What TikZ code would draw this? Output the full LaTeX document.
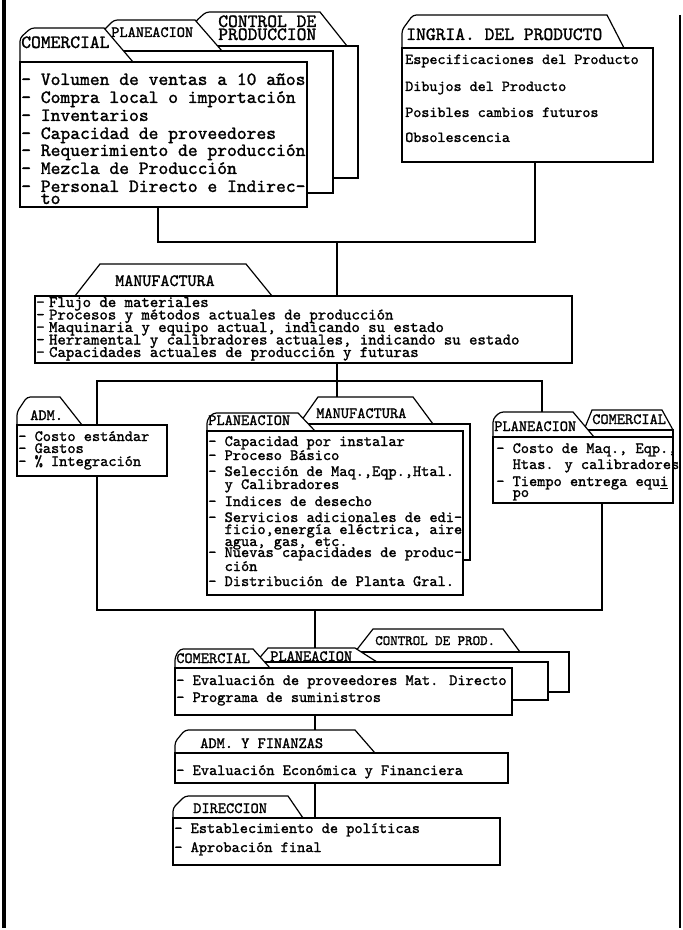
\documentclass[tikz,border=0pt]{standalone}
\newcommand\twf[1]{\font\twcur="[lmmono10-regular.otf]:embolden=1.4" at #1pt\twcur}
\tikzset{
  px/.style={x=0.75pt,y=-0.75pt},
  box/.style={draw=black,line width=0.9pt,fill=white,line join=miter},
  conn/.style={draw=black,line width=1.8pt},
  txt/.style={inner sep=0pt,anchor=base west},
  fbig/.style={txt,font=\twf{14}},
  fsm/.style={txt,font=\twf{11.7}},
  fin/.style={txt,font=\twf{11.5}},
  fmf/.style={txt,font=\twf{12}},
  ftab/.style={txt,font=\twf{12.9}},
  fctl/.style={txt,font=\twf{10.7}},
}
\newcommand\tabshape[7]{\path[box] (#1,#2) [rounded corners=2.5pt] -- (#1,#3) -- (#4,#5) [sharp corners] -- (#6,#5) -- (#7,#2);}
\newcommand\tabslant[6]{\path[box] (#1,#2) -- (#3,#4) -- (#5,#4) -- (#6,#2);}
\newcommand\md{-\hspace{-3pt}\ }
\begin{document}
\begin{tikzpicture}[px]
\useasboundingbox (0,0) rectangle (682,930);
\path[fill=white] (0,0) rectangle (682,930);
% page borders
\draw[line width=3pt] (4,0) -- (4,928);
\draw[line width=0.8pt] (680,15) -- (680,928);

% connector end points
\coordinate (cA) at (158,207);
\coordinate (jA) at (158,242);
\coordinate (jM) at (337,242);
\coordinate (jB) at (535,242);
\coordinate (iB) at (535,162);
\coordinate (mT) at (337,296);
\coordinate (mB) at (337,363);
\coordinate (mt2) at (337,397);
\coordinate (bTL) at (97,381);
\coordinate (bTR) at (542,381);
\coordinate (rT) at (542,412);
\coordinate (bBL) at (97,610);
\coordinate (bBR) at (602,610);
\coordinate (rB) at (602,503);
\coordinate (bM) at (315,610);
\coordinate (pT) at (315,648);
\coordinate (cB2) at (315,715);
\coordinate (aT) at (315,753);
\coordinate (aB) at (315,783);
\coordinate (dT) at (315,818);

% connectors
\draw[conn] (cA) -- (jA) -- (jB) -- (iB);
\draw[conn] (jM) -- (mT);
\draw[conn] (mB) -- (mt2);
\draw[conn] (rT) -- (bTR) -- (bTL) -- (bBL) -- (bBR) -- (rB);
\draw[conn] (bM) -- (pT);
\draw[conn] (cB2) -- (aT);
\draw[conn] (aB) -- (dT);

% ---------- top-left group ----------
\tabshape{195}{46}{22}{206}{12}{320}{347}
\path[box] (195,46) rectangle (358,178);
\tabshape{103}{51}{31}{114}{20}{195}{222}
\path[box] (103,51) rectangle (333,193);
\tabshape{20}{62}{38}{31}{28}{104}{133}
\path[box] (20,62) rectangle (307,207);
% INGRIA
\tabshape{402}{48}{30}{413}{15}{607}{624}
\path[box] (402,48) rectangle (653,162);
% MANUFACTURA
\tabslant{75}{296}{100}{264}{246}{272}
\path[box] (35,296) rectangle (572,363);
% ADM
\tabshape{17}{425}{412}{27}{397}{60}{82}
\path[box] (17,425) rectangle (167,476);
% middle group
\tabslant{299}{424}{318}{397}{413}{433}
\path[box] (299,424) rectangle (470,560);
\tabshape{207}{431}{420}{213}{413}{298}{315}
\path[box] (207,431) rectangle (463,595);
% right group
\tabslant{584}{430}{592}{410}{662}{673}
\path[box] (584,430) rectangle (673,503);
\tabshape{493}{437}{419}{500}{412}{573}{594}
\path[box] (493,437) rectangle (673,503);
% bottom group
\tabslant{355}{652}{373}{629}{503}{520}
\path[box] (348,652) rectangle (569,692);
\tabslant{256}{662}{268}{648}{355}{377}
\path[box] (256,662) rectangle (548,700);
\tabshape{175}{668}{657}{180}{649}{253}{270}
\path[box] (175,668) rectangle (512,715);
% ADM Y FINANZAS
\tabshape{175}{753}{742}{185}{730}{355}{375}
\path[box] (175,753) rectangle (508,783);
% DIRECCION
\tabshape{173}{818}{808}{185}{796}{288}{303}
\path[box] (173,818) rectangle (500,865);

% ---------- texts ----------
\node[fbig] (tCom) at (21,48) {COMERCIAL};
\node[fsm] (tPla) at (111,37) {PLANEACION};
\node[fbig] (tCtl1) at (218,27) {CONTROL DE};
\node[fbig] (tCtl2) at (218,40) {PRODUCCION};
\foreach \yy/\s [count=\i] in {85/{- Volumen de ventas a 10 años},103/{- Compra local o importación},121/{- Inventarios},139/{- Capacidad de proveedores},156/{- Requerimiento de producción},174/{- Mezcla de Producción},192/{- Personal Directo e Indirec-}}
  \node[fbig] (ca\i) at (21,\yy) {\s};
\node[fbig] (ca8) at (40.6,204) {to};

\node[fbig] (tIng) at (406,40) {INGRIA. DEL PRODUCTO};
\foreach \yy/\s [count=\i] in {64/{Especificaciones del Producto},91/{Dibujos del Producto},117/{Posibles cambios futuros},142/{Obsolescencia}}
  \node[fin] (in\i) at (405,\yy) {\s};

\node[ftab] (tMan) at (115,286) {MANUFACTURA};
\foreach \yy/\s [count=\i] in {307/{Flujo de materiales},319.5/{Procesos y métodos actuales de producción},332/{Maquinaria y equipo actual, indicando su estado},344.5/{Herramental y calibradores actuales, indicando su estado},357/{Capacidades actuales de producción y futuras}}
  \node[fmf] (mf\i) at (36,\yy) {\md\s};

\node[fsm] (tAdm) at (30,420) {ADM.};
\foreach \yy/\s [count=\i] in {441/{- Costo estándar},453/{- Gastos},466/{- \% Integración}}
  \node[fsm] (ad\i) at (18,\yy) {\s};

\node[fsm] (tPla2) at (208,425) {PLANEACION};
\node[fsm] (tMan2) at (316,418) {MANUFACTURA};
\foreach \xx/\yy/\s [count=\i] in {208/446/{- Capacidad por instalar},208/460/{- Proceso Básico},208/476/{- Selección de Maq.,Eqp.,Htal.},224.4/489/{y Calibradores},208/506/{- Indices de desecho},208/522/{- Servicios adicionales de edi-},224.4/534/{ficio,energía eléctrica, aire},224.4/546/{agua, gas, etc.},208/557/{- Nuevas capacidades de produc-},224.4/571/{ción},208/586/{- Distribución de Planta Gral.}}
  \node[fsm] (pl\i) at (\xx,\yy) {\s};

\node[fsm] (tPla3) at (494,431) {PLANEACION};
\node[fsm] (tCom3) at (592,424) {COMERCIAL};
\node[fsm] (rc1) at (496,453) {- Costo de Maq., Eqp.,};
\node[fsm] (rc2) at (512.4,469) {Htas. y calibradores};
\node[fsm] (rc3) at (496,486) {- Tiempo entrega equ\underline{i}};
\node[fsm] (rc4) at (512.4,497) {po};

\node[fsm] (tCom4) at (176,663) {COMERCIAL};
\node[fsm] (tPla4) at (270,661) {PLANEACION};
\node[fctl] (tCtl4) at (375,645) {CONTROL DE PROD.};
\node[fsm] (cb1) at (176,685) {- Evaluación de proveedores Mat. Directo};
\node[fsm] (cb2) at (176,702) {- Programa de suministros};

\node[fsm] (tAf) at (200,748) {ADM. Y FINANZAS};
\node[fsm] (af1) at (176,775) {- Evaluación Económica y Financiera};

\node[fsm] (tDir) at (193,813) {DIRECCION};
\node[fsm] (di1) at (174,833) {- Establecimiento de políticas};
\node[fsm] (di2) at (174,852) {- Aprobación final};
\end{tikzpicture}
\end{document}
